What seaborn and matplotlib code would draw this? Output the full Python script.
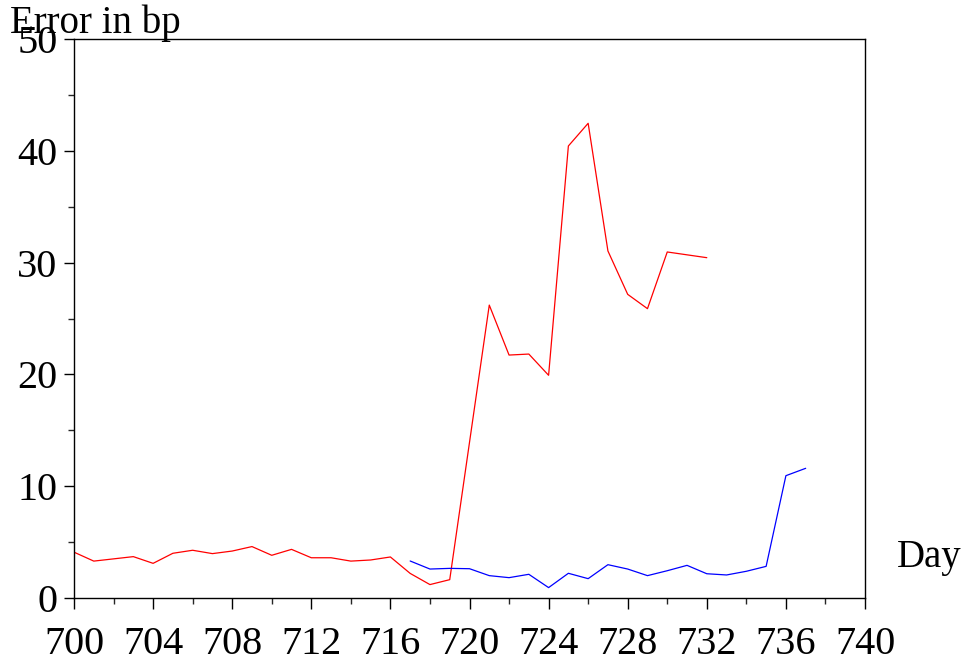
"""
Error in bp over days: two forecast series (red / blue), Maple-style axes.
"""
import matplotlib
matplotlib.use("Agg")
import matplotlib.pyplot as plt
import matplotlib.ticker as mticker
import pandas as pd
import seaborn as sns

# ─── Data ────────────────────────────────────────────────────────────────────
red_days = [700, 701, 702, 703, 704, 705, 706, 707, 708, 709, 710, 711, 712,
            713, 714, 715, 716, 717, 718, 719, 721, 722, 723, 724, 725, 726,
            727, 728, 729, 730, 732]
red_err = [4.1, 3.3, 3.5, 3.7, 3.1, 4.0, 4.27, 3.97, 4.2, 4.6, 3.82, 4.35, 3.6,
           3.6, 3.3, 3.4, 3.67, 2.2, 1.2, 1.64, 26.2, 21.73, 21.82, 19.92,
           40.43, 42.46, 31.04, 27.16, 25.88, 30.95, 30.44]

blue_days = [717, 718, 719, 720, 721, 722, 723, 724, 725, 726, 727, 728, 729,
             730, 731, 732, 733, 734, 735, 736, 737]
blue_err = [3.31, 2.59, 2.65, 2.62, 2.0, 1.82, 2.12, 0.93, 2.21, 1.73, 2.98,
            2.59, 2.0, 2.44, 2.92, 2.17, 2.06, 2.39, 2.83, 10.94, 11.6]

x_ticks = [700, 704, 708, 712, 716, 720, 724, 728, 732, 736, 740]
y_ticks = [0, 10, 20, 30, 40, 50]

RED = "#ff0000"
BLUE = "#0000ff"

# ─── Style ───────────────────────────────────────────────────────────────────
sns.set_style("ticks")
plt.rcParams["font.family"] = ["Liberation Serif", "DejaVu Serif"]
plt.rcParams["text.color"] = "black"

df = pd.concat([
    pd.DataFrame({"day": red_days, "err": red_err, "series": "red"}),
    pd.DataFrame({"day": blue_days, "err": blue_err, "series": "blue"}),
])

fig = plt.figure(figsize=(9.64, 6.65), dpi=100, facecolor="white")
ax = fig.add_axes([74 / 964, 1 - 598 / 665, (865 - 74) / 964, (598 - 39) / 665])

sns.lineplot(data=df, x="day", y="err", hue="series",
             palette={"red": RED, "blue": BLUE}, linewidth=0.9,
             legend=False, ax=ax, estimator=None, sort=True)

ax.set_xlim(700, 740)
ax.set_ylim(0, 50)
ax.set_xticks(x_ticks)
ax.set_yticks(y_ticks)
ax.xaxis.set_minor_locator(mticker.MultipleLocator(2))
ax.yaxis.set_minor_locator(mticker.MultipleLocator(5))
ax.tick_params(axis="both", which="major", labelsize=29, width=1.0,
               color="black", labelcolor="black")
ax.tick_params(axis="x", which="major", length=8, pad=12)
ax.tick_params(axis="x", which="minor", length=4, width=1.0)
ax.tick_params(axis="y", which="major", length=7, pad=5)
ax.tick_params(axis="y", which="minor", length=4, width=1.0)
for s in ax.spines.values():
    s.set_visible(True)
    s.set_color("black")
    s.set_linewidth(1.0)

ax.set_xlabel("")
ax.set_ylabel("")
fig.text(10 / 964, 1 - 33 / 665, "Error in bp", fontsize=28, color="black",
         ha="left", va="baseline")
fig.text(897 / 964, 1 - 557 / 665, "Day", fontsize=28, color="black",
         ha="left", va="center")

fig.savefig("out.png", dpi=100, facecolor="white")
